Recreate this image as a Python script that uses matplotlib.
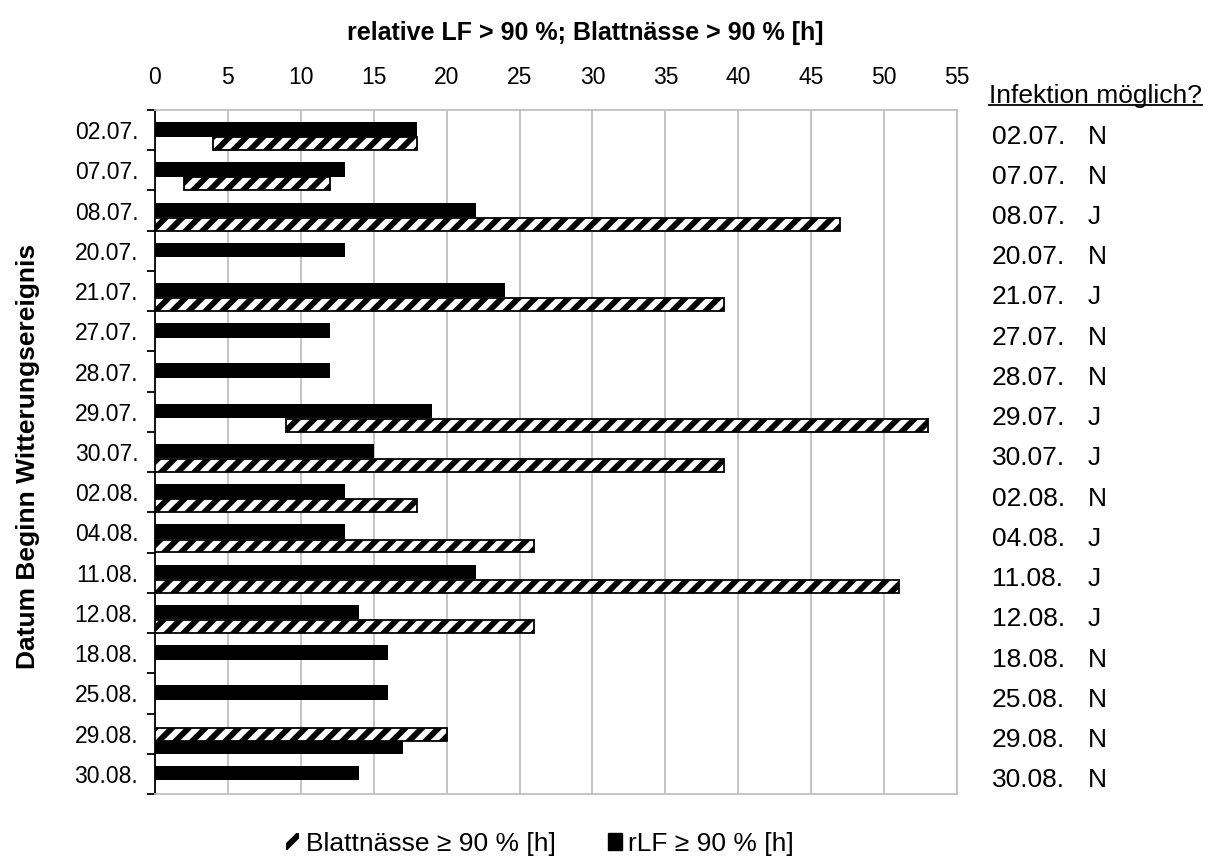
import numpy as np
import matplotlib
matplotlib.use("Agg")
import matplotlib.pyplot as plt
from matplotlib.patches import Patch
from matplotlib.lines import Line2D
from matplotlib.transforms import blended_transform_factory

plt.rcParams["font.family"] = ["Liberation Sans", "DejaVu Sans"]
plt.rcParams["hatch.linewidth"] = 4.2

dates = ["02.07.", "07.07.", "08.07.", "20.07.", "21.07.", "27.07.", "28.07.",
         "29.07.", "30.07.", "02.08.", "04.08.", "11.08.", "12.08.", "18.08.",
         "25.08.", "29.08.", "30.08."]
rlf_hours = [18, 13, 22, 13, 24, 12, 12, 19, 15, 13, 13, 22, 14, 16, 16, 17, 14]
bn_start = [4, 2, 0, np.nan, 0, np.nan, np.nan, 9, 0, 0, 0, 0, 0, np.nan, np.nan, 0, np.nan]
bn_end = [18, 12, 47, np.nan, 39, np.nan, np.nan, 53, 39, 18, 26, 51, 26, np.nan, np.nan, 20, np.nan]
infektion = ["N", "N", "J", "N", "J", "N", "N", "J", "J", "N", "J", "J", "J",
             "N", "N", "N", "N"]
x_ticks = list(range(0, 56, 5))

# rows where the hatched bar sits above the black one
swapped = {"29.08."}

fig = plt.figure(figsize=(12.16, 8.61), dpi=100)
ax = fig.add_axes([155 / 1216, 1 - 794 / 861, 802 / 1216, 684 / 861])

n = len(dates)
rows = np.arange(n)
bn_start = np.array(bn_start, dtype=float)
bn_end = np.array(bn_end, dtype=float)

black_pos = np.array([0.85 if d in swapped else 0.48 for d in dates])
hatch_pos = np.array([0.525 if d in swapped else 0.835 for d in dates])
black_h = np.array([0.31 if d in swapped else 0.36 for d in dates])

ax.barh(rows + black_pos, rlf_hours, height=black_h, color="black", zorder=3)
has_bn = ~np.isnan(bn_end)
ax.barh(rows[has_bn] + hatch_pos[has_bn], bn_end[has_bn] - bn_start[has_bn],
        left=bn_start[has_bn], height=0.32, color="white", edgecolor="black",
        linewidth=1.3, hatch="//", zorder=3)

ax.set_xlim(0, 55)
ax.set_ylim(n, 0)
ax.xaxis.tick_top()
ax.set_xticks(x_ticks)
ax.tick_params(axis="x", length=0, pad=15, labelsize=16.5)
ax.grid(axis="x", color="#BFBFBF", linewidth=1.3, zorder=0)
ax.set_axisbelow(True)

ax.set_yticks(np.arange(n + 1))
ax.set_yticklabels([])
ax.tick_params(axis="y", which="major", length=6, width=1.3, direction="out")
ax.set_yticks(rows + 0.5, minor=True)
ax.set_yticklabels(dates, minor=True)
ax.tick_params(axis="y", which="minor", length=0, pad=12, labelsize=16.5)

for s in ["top", "bottom", "right"]:
    ax.spines[s].set_color("#BFBFBF")
    ax.spines[s].set_linewidth(1.3)
ax.spines["left"].set_color("black")
ax.spines["left"].set_linewidth(1.3)

fig.text(585 / 1216, 1 - 33 / 861, "relative LF > 90 %; Blattnässe > 90 % [h]",
         ha="center", va="center", fontsize=18, fontweight="bold")
fig.text(28 / 1216, 1 - 456 / 861, "Datum Beginn Witterungsereignis",
         ha="center", va="center", rotation=90, fontsize=19, fontweight="bold")

# right hand table
tr = blended_transform_factory(fig.transFigure, ax.transData)
for i, (d, inf) in enumerate(zip(dates, infektion)):
    ax.text(992 / 1216, i + 0.66, d, transform=tr, ha="left", va="center",
            fontsize=19, clip_on=False)
    ax.text(1088 / 1216, i + 0.66, inf, transform=tr, ha="left", va="center",
            fontsize=19, clip_on=False)

head = fig.text(989 / 1216, 1 - 96 / 861, "Infektion möglich?", ha="left",
                va="center", fontsize=19)
fig.canvas.draw()
bb = head.get_window_extent().transformed(fig.transFigure.inverted())
fig.add_artist(Line2D([bb.x0, bb.x1], [bb.y0 + 0.003, bb.y0 + 0.003],
                      color="black", linewidth=1.3, transform=fig.transFigure))

handles = [Patch(facecolor="white", edgecolor="black", linewidth=0, hatch="/"),
           Patch(facecolor="black", edgecolor="black")]
fig.legend(handles, ["Blattnässe ≥ 90 % [h]", "rLF ≥ 90 % [h]"],
           loc="center", bbox_to_anchor=(540 / 1216, 1 - 844 / 861), ncol=2,
           frameon=False, fontsize=19, handlelength=0.5, handleheight=0.6,
           handletextpad=0.25, columnspacing=2.0)

fig.savefig("out.png", dpi=100)
